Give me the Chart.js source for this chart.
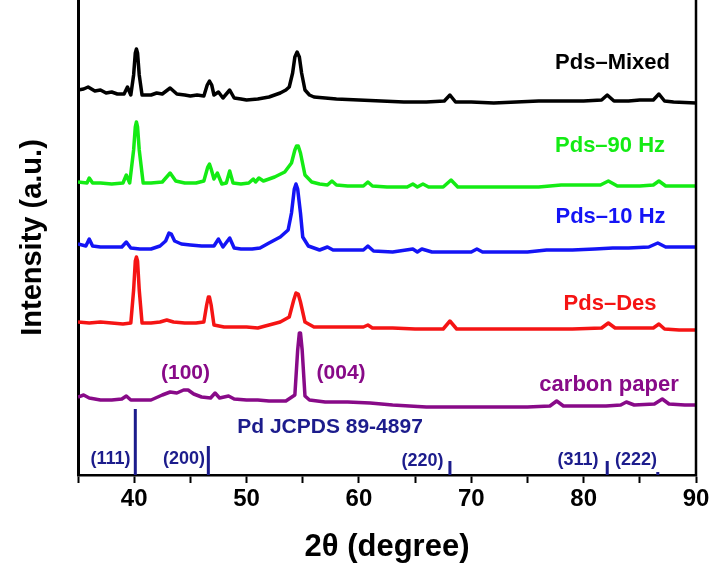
<!DOCTYPE html>
<html>
<head>
<meta charset="utf-8">
<title>XRD patterns</title>
<script src="https://cdn.jsdelivr.net/npm/chart.js@4.4.1/dist/chart.umd.min.js"></script>
<style>
  html, body { margin: 0; padding: 0; background: #fff; }
  #wrap { width: 713px; height: 568px; }
</style>
</head>
<body>
<div id="wrap"><canvas id="xrd"></canvas></div>
<script>
// 2θ (degree), intensity (a.u., traces already stacked)
const pdsMixed = [
  [35,385],[35.5,386],[35.9,388],[36.5,384],[37,385],[37.5,382],[38,383],[38.5,381],[39.1,381],[39.4,388],[39.7,380],
  [39.95,400],[40.1,422],[40.2,426],[40.3,422],[40.45,400],[40.7,380],[41.5,380],[42,382],[42.5,381],[43.2,387],[43.8,381],
  [44.5,380],[45,379],[45.6,380],[46.2,379],[46.5,390],[46.7,394],[46.9,390],[47.1,380],[47.5,383],[47.9,377],[48.5,385],[48.9,377],
  [49.5,376],[50,375],[51,376],[52,378],[52.5,380],[53,382],[53.5,385],[53.8,388],[54.1,402],[54.3,418],[54.5,423],[54.7,418],
  [54.9,402],[55.2,385],[55.6,380],[56,378],[57,377],[58,376],[60,375],[62,374],[64,373],[66,373],[67.6,374],[68.1,380],[68.6,373],
  [70,373],[72,372],[74,373],[76,374],[78,374],[80,374],[81.6,375],[82.1,380],[82.7,374],
  [84,374],[85,375],[86.2,375],[86.7,381],[87.2,374],[88,373],[90,372]
];
const pds90Hz = [
  [35,293],[35.8,292],[36.0,297],[36.3,292],[37,292],[38,291],[39,292],[39.3,300],[39.6,292],
  [39.95,325],[40.1,348],[40.2,353],[40.3,348],[40.45,325],[40.8,292],[41.5,292],[42.5,293],[43.2,302],[43.7,294],
  [44.5,292],[45.5,292],[46.2,294],[46.55,308],[46.7,311],[46.85,306],[47.1,296],[47.4,302],[47.8,291],[48.2,292],
  [48.5,304],[48.8,292],[49.5,291],[50.2,292],[50.6,296],[50.8,293],[51.1,297],[51.5,294],
  [52.5,298],[53.4,303],[54.0,312],[54.3,325],[54.45,329],[54.6,329],[54.8,322],[55.2,300],[55.8,293],
  [56.5,291],[57.2,290],[57.6,294],[58,290],[59,289],[60.4,289],[60.8,293],[61.2,289],
  [62.5,288],[64.3,288],[64.8,291],[65.2,288],[65.7,291],[66.2,288],[67.5,288],[68.2,295],
  [68.8,288],[70,288],[72,288],[74,288],[76,288],[78,290],[80,290],[81.5,290],[82.2,294],
  [83,289],[85,289],[86.2,290],[86.7,294],[87.3,289],[88.5,289],[90,289]
];
const pds10Hz = [
  [35,231],[35.7,229],[36.0,236],[36.3,229],[37,228],[38,228],[38.9,228],[39.3,233],[39.7,227],
  [40.5,226],[41.5,226],[42.3,229],[42.8,234],[43.1,242],[43.3,241],[43.6,234],[44.2,231],[45,230],
  [46,229],[47.1,229],[47.5,236],[47.9,228],[48.5,237],[48.9,227],[49.5,226],[50.5,226],
  [51.2,227],[52,232],[53,238],[53.7,245],[54.0,262],[54.25,286],[54.4,291],[54.55,286],[54.8,262],[55.0,238],
  [55.5,229],[56.5,225],[57.2,228],[57.7,225],[59,225],[60.4,225],[60.8,229],[61.3,224],
  [63,223],[64.8,226],[65.2,223],[65.6,226],[66.5,223],[68,223],[70,223],[70.5,226],[71,223],
  [73,223],[75,223],[76.7,225],[79,225],[81,226],[82.6,227],[84,227],[85.8,228],[86.6,232],
  [87.3,228],[88.5,228],[90,228]
];
const pdsDes = [
  [35,153],[36,152],[37,153],[38,152],[39,151],[39.7,152],[39.95,185],[40.1,214],[40.2,218],[40.3,214],[40.45,185],
  [40.7,152],[41.5,152],[42.3,153],[42.9,155],[43.5,153],[44.5,152],[45.5,152],[46.2,153],
  [46.45,170],[46.6,178],[46.7,178],[46.85,170],[47.1,150],[48,148],[49,148],[50,148],[51,147],[52,150],
  [53,153],[53.8,158],[54.2,175],[54.4,182],[54.6,181],[54.8,173],[55.2,153],[56,148],[58,148],[60.4,148],
  [60.8,150],[61.2,147],[63,147],[65,146],[67.5,146],[68.1,154],[68.7,146],[70,146],[73,146],
  [76,146],[79,146],[81.6,147],[82.2,152],[82.8,147],[85,147],[86.2,147],[86.7,151],[87.2,146],
  [88.5,145],[90,145]
];
const carbonPaper = [
  [35,78],[35.5,80],[36,77],[37,75],[38,75],[38.9,76],[39.3,79],[39.7,75],[40.5,75],[41.5,75],
  [42.5,80],[43.2,83],[43.8,82],[44.4,85],[44.8,85],[45.3,81],[46,78],[46.8,77],[47.2,82],
  [47.6,77],[48.4,79],[48.9,76],[50,75],[51,75],[52,74],[53.5,74],[54.3,80],[54.55,125],
  [54.7,142],[54.8,142],[54.95,125],[55.2,79],[55.6,75],[57,73],[59,73],[61,72],[63,70],[66,68],[69,68],
  [72,68],[75,68],[77,69],[77.6,74],[78.2,69],[80,69],[82,69],[83.3,70],[83.8,73],[84.5,70],
  [86.3,71],[87,76],[87.6,71],[89,70],[90,70]
];

// Pd JCPDS 89-4897 reference lines
const stickPos = [40.1, 46.6, 68.1, 82.1, 86.6];
const stickHeight = [66, 29, 14, 14, 3];
const stickHkl = ['(111)', '(200)', '(220)', '(311)', '(222)'];

const seriesNames = ['Pds\u2013Mixed', 'Pds\u201390 Hz', 'Pds\u201310 Hz', 'Pds\u2013Des', 'carbon paper'];
const seriesColors = ['#000000', '#14eb14', '#1414f5', '#f51414', '#880a88'];
const navy = '#1c1c8c';

const toPts = arr => arr.map(([x, y]) => ({ x, y }));

// text placed in data coordinates (x = 2θ, y = intensity baseline)
const notes = [
  { text: seriesNames[0], x: 82.57, y: 406, color: seriesColors[0], size: 22 },
  { text: seriesNames[1], x: 82.35, y: 323, color: seriesColors[1], size: 22 },
  { text: seriesNames[2], x: 82.39, y: 252, color: seriesColors[2], size: 22 },
  { text: seriesNames[3], x: 82.35, y: 165, color: seriesColors[3], size: 22 },
  { text: seriesNames[4], x: 82.26, y: 84, color: seriesColors[4], size: 22 },
  { text: '(100)', x: 44.57, y: 96.5, color: seriesColors[4], size: 21 },
  { text: '(004)', x: 58.41, y: 96.5, color: seriesColors[4], size: 21 },
  { text: 'Pd JCPDS 89-4897', x: 57.43, y: 42, color: navy, size: 21 },
  { text: stickHkl[0], x: 37.89, y: 11, color: navy, size: 18 },
  { text: stickHkl[1], x: 44.43, y: 11, color: navy, size: 18 },
  { text: stickHkl[2], x: 65.66, y: 9, color: navy, size: 18 },
  { text: stickHkl[3], x: 79.50, y: 10, color: navy, size: 18 },
  { text: stickHkl[4], x: 84.66, y: 10, color: navy, size: 18 }
];

const annotate = {
  id: 'annotate',
  afterDraw(chart) {
    const { ctx, chartArea, scales: { x, y } } = chart;
    ctx.save();
    // right frame line
    ctx.strokeStyle = '#000';
    ctx.lineWidth = 2.5;
    ctx.beginPath();
    ctx.moveTo(chartArea.right, chartArea.top);
    ctx.lineTo(chartArea.right, chartArea.bottom + 1);
    ctx.stroke();
    ctx.textAlign = 'center';
    ctx.textBaseline = 'alphabetic';
    notes.forEach(n => {
      ctx.font = `bold ${n.size}px "Liberation Sans", Arial, sans-serif`;
      ctx.fillStyle = n.color;
      ctx.fillText(n.text, x.getPixelForValue(n.x), y.getPixelForValue(n.y));
    });
    ctx.restore();
  }
};

const traces = [pdsMixed, pds90Hz, pds10Hz, pdsDes, carbonPaper];
const datasets = traces.map((t, i) => ({
  label: seriesNames[i],
  data: toPts(t),
  borderColor: seriesColors[i],
  borderWidth: 3.5,
  borderJoinStyle: 'round',
  pointRadius: 0,
  tension: 0
}));
datasets.push({
  label: 'Pd JCPDS 89-4897',
  data: stickPos.flatMap((p, i) => [{ x: p, y: 0 }, { x: p, y: stickHeight[i] }, { x: p, y: null }]),
  borderColor: navy,
  borderWidth: 3,
  pointRadius: 0,
  spanGaps: false
});

new Chart(document.getElementById('xrd'), {
  type: 'line',
  data: { datasets },
  options: {
    responsive: true,
    maintainAspectRatio: false,
    animation: false,
    devicePixelRatio: 1,
    layout: { padding: { top: 0, right: 17, left: 0, bottom: 0 } },
    plugins: { legend: { display: false }, tooltip: { enabled: false } },
    scales: {
      x: {
        type: 'linear',
        min: 35,
        max: 90,
        afterFit: s => { s.height = 93; },
        ticks: {
          stepSize: 5,
          autoSkip: false,
          maxRotation: 0,
          padding: 2,
          color: '#000',
          font: { family: '"Liberation Sans", Arial, sans-serif', weight: 'bold', size: 24 },
          callback: v => (v % 10 === 0 ? v : '')
        },
        grid: { drawOnChartArea: false, tickLength: 8, tickWidth: 2, tickColor: '#000' },
        border: { color: '#000', width: 2.5 },
        title: {
          display: true,
          text: '2\u03b8 (degree)',
          color: '#000',
          font: { family: '"Liberation Sans", Arial, sans-serif', weight: 'bold', size: 31 },
          padding: { top: 0, bottom: 2 }
        }
      },
      y: {
        min: 0,
        max: 475,
        afterFit: s => { s.width = 78; },
        ticks: { display: false },
        grid: { display: false },
        border: { color: '#000', width: 3 },
        title: {
          display: true,
          text: 'Intensity (a.u.)',
          color: '#000',
          font: { family: '"Liberation Sans", Arial, sans-serif', weight: 'bold', size: 29 },
          padding: { top: 16, bottom: 0 }
        }
      }
    }
  },
  plugins: [annotate]
});
</script>
</body>
</html>
